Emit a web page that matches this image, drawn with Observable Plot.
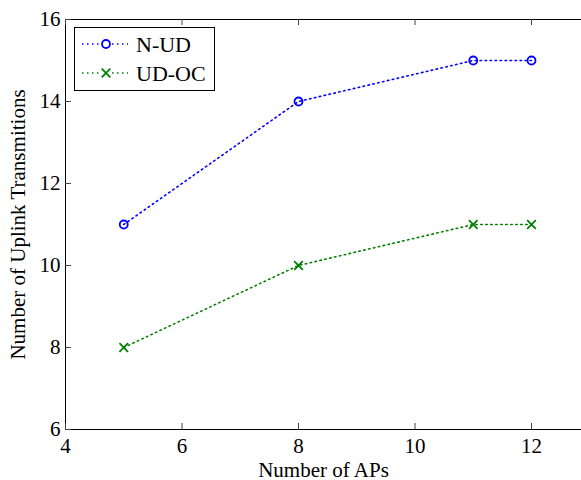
<!DOCTYPE html>
<html>
<head>
<meta charset="utf-8">
<script src="https://cdn.jsdelivr.net/npm/d3@7"></script>
<script src="https://cdn.jsdelivr.net/npm/@observablehq/plot@0.6"></script>
<style>
  html, body { margin: 0; padding: 0; background: #fff; overflow: hidden; }
</style>
</head>
<body>
<div id="chart"></div>
<script>
const aps = [5, 8, 11, 12];
const nud = [11, 14, 15, 15];
const udoc = [8, 10, 11, 11];
const seriesNames = ["N-UD", "UD-OC"];
const seriesColors = ["#0000ff", "#008000"];
const xTicks = [4, 6, 8, 10, 12];
const yTicks = [6, 8, 10, 12, 14, 16];

const dataN = aps.map((x, i) => ({x, y: nud[i]}));
const dataU = aps.map((x, i) => ({x, y: udoc[i]}));

const W = 581, H = 480;
const mL = 65, mT = 19, mB = 51, mR = 0;
const fw = W - mL - mR, fh = H - mT - mB;
const tick = 6;
const dash = "1.5,3.5";
const FONT = "'Liberation Serif', 'Times New Roman', serif";

const plot = Plot.plot({
  width: W, height: H,
  marginLeft: mL, marginTop: mT, marginBottom: mB, marginRight: mR,
  style: {fontFamily: FONT, fontSize: "21px", background: "#fff", color: "#000"},
  x: {domain: [4, 4 + fw / 58.25]},
  y: {domain: [6, 16]},
  marks: [
    Plot.ruleY([6, 16], {stroke: "#000", strokeWidth: 1}),
    Plot.ruleX([4], {stroke: "#000", strokeWidth: 1}),
    Plot.tickX(xTicks, {x: d => d, insetTop: fh - tick, stroke: "#444"}),
    Plot.tickX(xTicks, {x: d => d, insetBottom: fh - tick, stroke: "#444"}),
    Plot.tickY(yTicks, {y: d => d, insetRight: fw - tick, stroke: "#444"}),
    Plot.axisX({ticks: xTicks, tickSize: 0, tickPadding: 9, label: "Number of APs", labelAnchor: "center", labelArrow: "none", labelOffset: 47, fill: "#000"}),
    Plot.axisY({ticks: yTicks, tickSize: 0, tickPadding: 5, label: "Number of Uplink Transmitions", labelAnchor: "center", labelArrow: "none", labelOffset: 55, fill: "#000"}),
    Plot.line(dataN, {x: "x", y: "y", stroke: seriesColors[0], strokeWidth: 1.6, strokeDasharray: dash}),
    Plot.line(dataU, {x: "x", y: "y", stroke: seriesColors[1], strokeWidth: 1.6, strokeDasharray: dash}),
    Plot.dot(dataN, {x: "x", y: "y", symbol: "circle", r: 4, stroke: seriesColors[0], strokeWidth: 1.8, fill: "none"}),
    Plot.dot(dataU, {x: "x", y: "y", symbol: "times", r: 4, stroke: seriesColors[1], strokeWidth: 1.8, fill: "none"})
  ]
});

// Legend
const svg = d3.select(plot);
const lg = svg.append("g").attr("class", "legend");
lg.append("rect").attr("x", 74.5).attr("y", 27.5).attr("width", 140).attr("height", 63)
  .attr("fill", "#fff").attr("stroke", "#000").attr("stroke-width", 1);
const rows = [44, 73];
const syms = [d3.symbolCircle, d3.symbolX || d3.symbolTimes];
seriesNames.forEach((name, i) => {
  const y = rows[i];
  lg.append("line").attr("x1", 82).attr("x2", 128).attr("y1", y).attr("y2", y)
    .attr("stroke", seriesColors[i]).attr("stroke-width", 1.6).attr("stroke-dasharray", dash);
  lg.append("rect").attr("x", 100).attr("y", y - 6).attr("width", 12).attr("height", 12).attr("fill", "#fff");
  lg.append("path").attr("d", d3.symbol(syms[i], 50)())
    .attr("transform", `translate(106,${y})`)
    .attr("fill", "none").attr("stroke", seriesColors[i]).attr("stroke-width", 1.8);
  lg.append("text").attr("x", 136).attr("y", y + 8).text(name)
    .attr("fill", "#000").attr("text-anchor", "start").style("font-size", "22px");
});

svg.selectAll("text").style("font-family", FONT).style("font-variant", "normal");
svg.selectAll("g").style("font-family", FONT);

document.getElementById("chart").appendChild(plot);
</script>
</body>
</html>
